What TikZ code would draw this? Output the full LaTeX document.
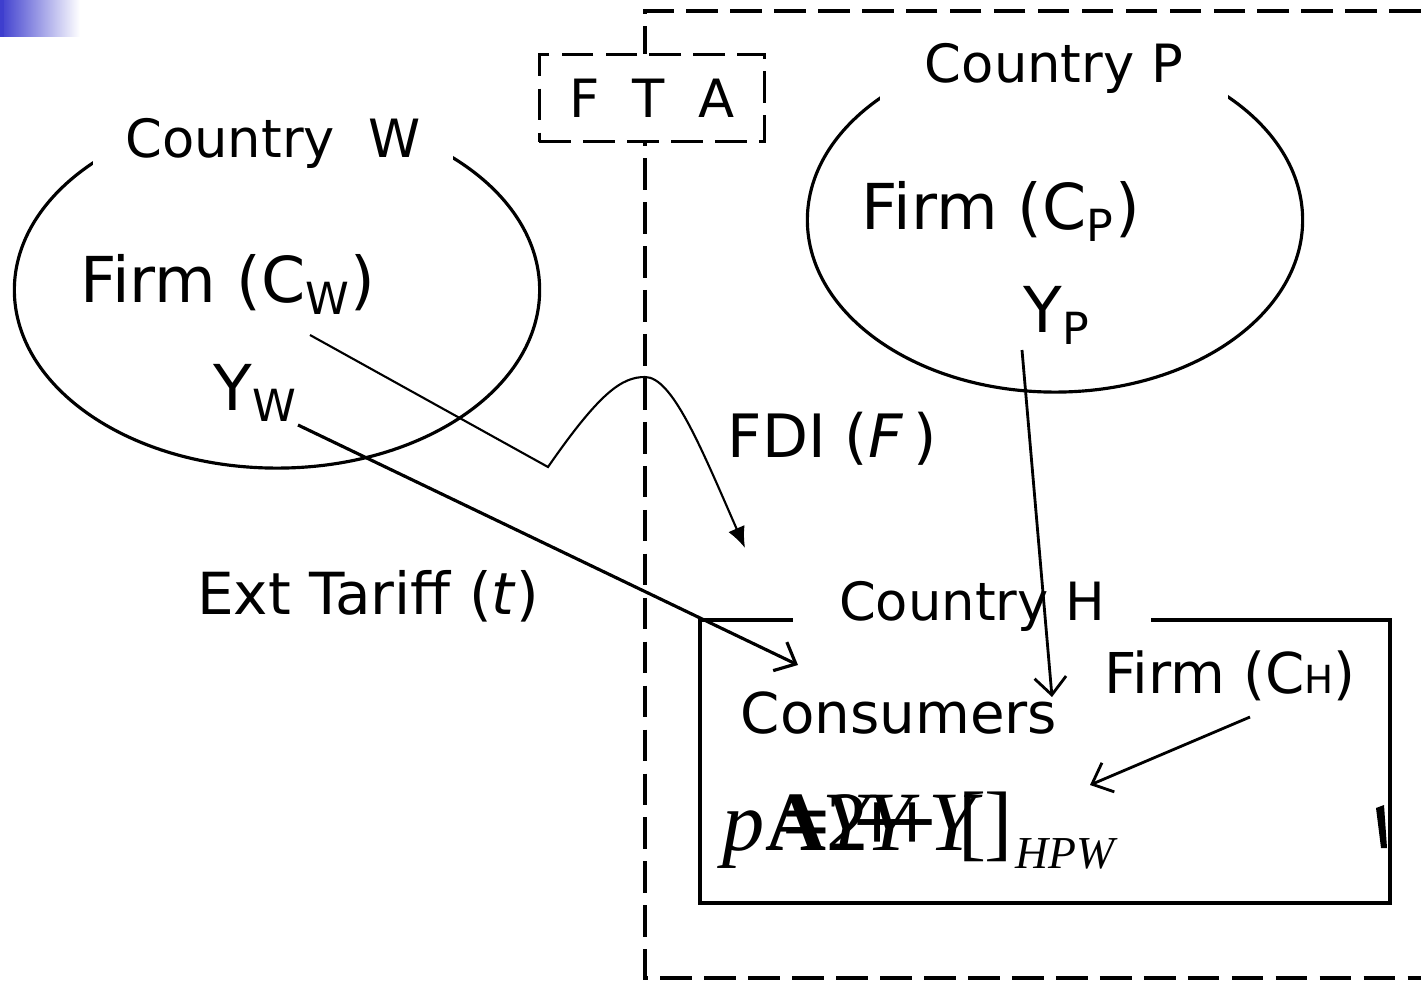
\documentclass[tikz,border=0pt]{standalone}
\usepackage{fontspec}
\setmainfont{DejaVu Sans}
\newfontfamily\formfont{Liberation Serif}
\usetikzlibrary{arrows.meta,shapes.geometric}
\definecolor{slideblue}{RGB}{62,62,206}
% one glyph of the price line, kerned from its left end
\newcommand{\pglyph}[2]{\rlap{\kern#1pt#2}}

\begin{document}
\begin{tikzpicture}[x=0.01cm,y=-0.01cm,
  region/.style={draw,ellipse,line width=0.9pt,inner sep=0pt},
  ctry/.style={fill=white,anchor=base,inner sep=0pt,font=\fontsize{15}{18}\selectfont},
  big/.style={anchor=base,inner sep=0pt,font=\fontsize{18}{22}\selectfont},
  fence/.style={line width=0.9pt,dash pattern=on 9pt off 3.5pt},
  flow/.style={line width=0.8pt,-{Straight Barb[length=5pt,width=9pt]}}]
\useasboundingbox (0,0) rectangle (1421,982);

% Slide mark
\shade[left color=slideblue,right color=white] (0,0) rectangle (80,37);
\fill[slideblue] (0,0) rectangle (4,37);

% FTA area
\draw[fence] (1421,11) -- (645,11) -- (645,978) -- (1421,978);
\node[draw,fill=white,fence,minimum width=2.25cm,minimum height=0.87cm,
  font=\fontsize{15}{18}\selectfont] (fta) at (652,98) {F~ T~ A};

% Country W and Country P
\node[region,minimum width=5.25cm,minimum height=3.56cm] (ellW) at (277,290) {};
\node[region,minimum width=4.95cm,minimum height=3.44cm] (ellP) at (1055,220) {};
\node[ctry,minimum width=3.6cm,minimum height=0.75cm] (cW) at (273,158) {Country~ W};
\node[ctry,minimum width=3.48cm,minimum height=0.8cm] (cP) at (1054,83) {Country P};

% Country H
\node[draw,line width=1pt,minimum width=6.9cm,minimum height=2.83cm,inner sep=0pt] (boxH) at (1045,761.5) {};
\node[ctry,minimum width=3.58cm,minimum height=0.55cm] (cH) at (972,620) {Country H};

% Names
\node[big] (firmW) at (228,303) {Firm (C\textsubscript{W})};
\node[big] (yW) at (256,410) {Y\textsubscript{W}};
\node[big] (firmP) at (1001,230) {Firm (C\textsubscript{P})};
\node[big] (yP) at (1057,333) {Y\textsubscript{P}};
\node[big,font=\fontsize{17}{20}\selectfont] (fdi) at (832,457) {FDI (\textit{F}\,)};
\node[big,font=\fontsize{16.5}{20}\selectfont] (tariff) at (368,614) {Ext Tariff (\textit{t})};
\node[big,font=\fontsize{16}{19}\selectfont] (cons) at (899,733) {Consumers};
\node[big,font=\fontsize{16}{19}\selectfont] (firmH) at (1230,693) {Firm (C{\fontsize{11}{13}\selectfont H})};

% Price formula (as printed)
\node[anchor=base west,inner sep=0pt,font=\formfont\fontsize{24}{28}\selectfont] (price) at (722,850)
  {\pglyph{0}{\textit{p}}\pglyph{12.2}{\textbf{A}}\pglyph{17.1}{\textbf{=}}\pglyph{29.6}{2}%
   \pglyph{28.5}{\textit{Y}}\pglyph{37.3}{\textbf{+}}\pglyph{40.7}{\textit{Y}}\pglyph{47.2}{\textbf{+}}%
   \pglyph{58.6}{\textit{Y}}\pglyph{67.1}{[}\pglyph{74.5}{]}\kern79pt};
\node[anchor=base west,inner sep=0pt,font=\formfont\itshape\fontsize{13}{15}\selectfont] (sub) at (1015,868) {HPW};
\fill (1376,808) -- (1384,805) -- (1387,848) -- (1381,848) -- cycle;

% Flows
\coordinate (fdiS) at (310,335);
\coordinate (fdiE) at (745,548);
\draw[line width=0.6pt,-{Latex[length=6pt,width=5pt]}] (fdiS) -- (548,467)
  .. controls (600,392) and (622,377) .. (645,377)
  .. controls (672,377) and (700,445) .. (fdiE);
\coordinate (twS) at (298,425);
\coordinate (twE) at (798,665);
\draw[flow,line width=0.9pt] (twS) -- (twE);
\coordinate (tpS) at (1022,350);
\coordinate (tpE) at (1052,697);
\draw[flow] (tpS) -- (tpE);
\coordinate (thS) at (1250,717);
\coordinate (thE) at (1090,785);
\draw[flow] (thS) -- (thE);
\end{tikzpicture}
\end{document}
